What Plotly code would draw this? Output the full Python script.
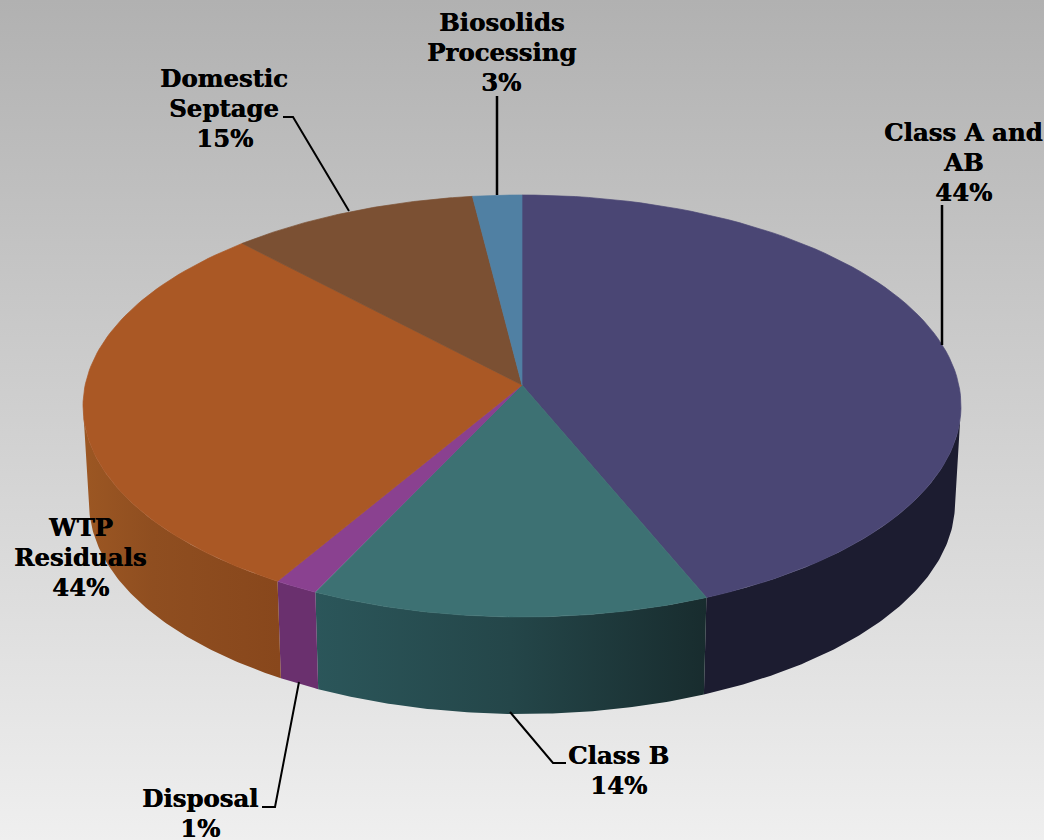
import numpy as np
import plotly.graph_objects as go

categories = ["Class A and<br>AB", "Class B", "Disposal", "WTP<br>Residuals", "Domestic<br>Septage", "Biosolids<br>Processing"]
percent_labels = ["44%", "14%", "1%", "44%", "15%", "3%"]
# Drawn slice shares (they differ from the printed labels)
drawn_shares = [43.1, 14.7, 1.6, 29.6, 9.2, 1.8]
top_colors = ["#4a4674", "#3d7173", "#8a4190", "#aa5825", "#7b5033", "#5080a3"]
wall_scales = [
    [[0, "#1c1c30"], [1, "#1c1c30"]],
    [[0, "#2b565a"], [0.5, "#244649"], [1, "#182c2e"]],
    [[0, "#6a306e"], [1, "#6a306e"]],
    [[0, "#9c5723"], [0.35, "#8f4e20"], [1, "#88471c"]],
    None,
    None,
]
label_pos = [(963, 162), (618, 770), (200, 813), (80, 557), (224, 108), (501, 52)]
leaders = [
    [(942, 205), (942, 345)],
    [(510, 712), (553, 763), (566, 763)],
    [(299, 682), (275, 807), (262, 807)],
    [],
    [(283, 117), (293, 117), (349, 211)],
    [(497, 96), (497, 195)],
]
leader_widths = [2.5, 2, 2, 0, 2, 2.5]

W, H = 1044, 840
CX, CY, A, B = 522, 406, 439, 211      # top-face ellipse
APEX_Y = 385                           # perspective hub of the top face
BCY, BA = 503, 433                     # bottom-rim ellipse
LINE_GAP = 30


def arc(t0, t1, cx, cy, a, b, n=90):
    t = np.radians(np.linspace(t0, t1, n))
    return cx + a * np.sin(t), cy - b * np.cos(t)


fig = go.Figure()

# background gradient
fig.add_trace(go.Scatter(
    x=[0, W, W, 0, 0], y=[0, 0, H, H, 0], mode="lines", line=dict(width=0),
    fill="toself", hoverinfo="skip",
    fillgradient=dict(type="vertical", colorscale=[[0, "#efefef"], [0.5, "#d0d0d0"], [1, "#b1b1b1"]]),
))

edges = np.concatenate([[0], np.cumsum(drawn_shares)]) / np.sum(drawn_shares) * 360

# side walls
for i, scale in enumerate(wall_scales):
    if scale is None:
        continue
    t0, t1 = edges[i], edges[i + 1]
    t0, t1 = max(t0, 90), min(t1, 270)
    xt, yt = arc(t0, t1, CX, CY, A, B)
    xb, yb = arc(t1, t0, CX, BCY, BA, B)
    fig.add_trace(go.Scatter(
        x=np.concatenate([xt, xb, xt[:1]]), y=np.concatenate([yt, yb, yt[:1]]),
        mode="lines", line=dict(width=0), fill="toself", hoverinfo="skip",
        fillgradient=dict(type="horizontal", colorscale=scale),
    ))

# top face
for i, color in enumerate(top_colors):
    xs, ys = arc(edges[i], edges[i + 1], CX, CY, A, B)
    fig.add_trace(go.Scatter(
        x=np.concatenate([[CX], xs, [CX]]), y=np.concatenate([[APEX_Y], ys, [APEX_Y]]),
        mode="lines", line=dict(width=0.7, color=color), fill="toself", fillcolor=color, hoverinfo="skip",
    ))

# leader lines
for pts, lw in zip(leaders, leader_widths):
    if pts:
        fig.add_trace(go.Scatter(
            x=[p[0] for p in pts], y=[p[1] for p in pts], mode="lines",
            line=dict(color="black", width=lw), hoverinfo="skip",
        ))

for name, pct, (lx, ly) in zip(categories, percent_labels, label_pos):
    lines = name.split("<br>") + [pct]
    for k, line in enumerate(lines):
        fig.add_annotation(
            x=lx, y=ly + (k - (len(lines) - 1) / 2) * LINE_GAP, text=f"<b>{line}</b>", showarrow=False,
            xanchor="center", yanchor="middle", align="center", borderpad=0, borderwidth=0,
            font=dict(family="DejaVu Serif", size=24.4, color="black", shadow="0.5px 0 0 black"),
        )

fig.update_layout(
    width=W, height=H, margin=dict(l=0, r=0, t=0, b=0), showlegend=False,
    paper_bgcolor="#d0d0d0", plot_bgcolor="rgba(0,0,0,0)",
    xaxis=dict(range=[0, W], visible=False, fixedrange=True),
    yaxis=dict(range=[H, 0], visible=False, fixedrange=True),
)
fig.write_html(
    "out.html", config=dict(displayModeBar=False),
    post_script="document.body.style.margin='0';document.body.style.overflow='hidden';",
)
